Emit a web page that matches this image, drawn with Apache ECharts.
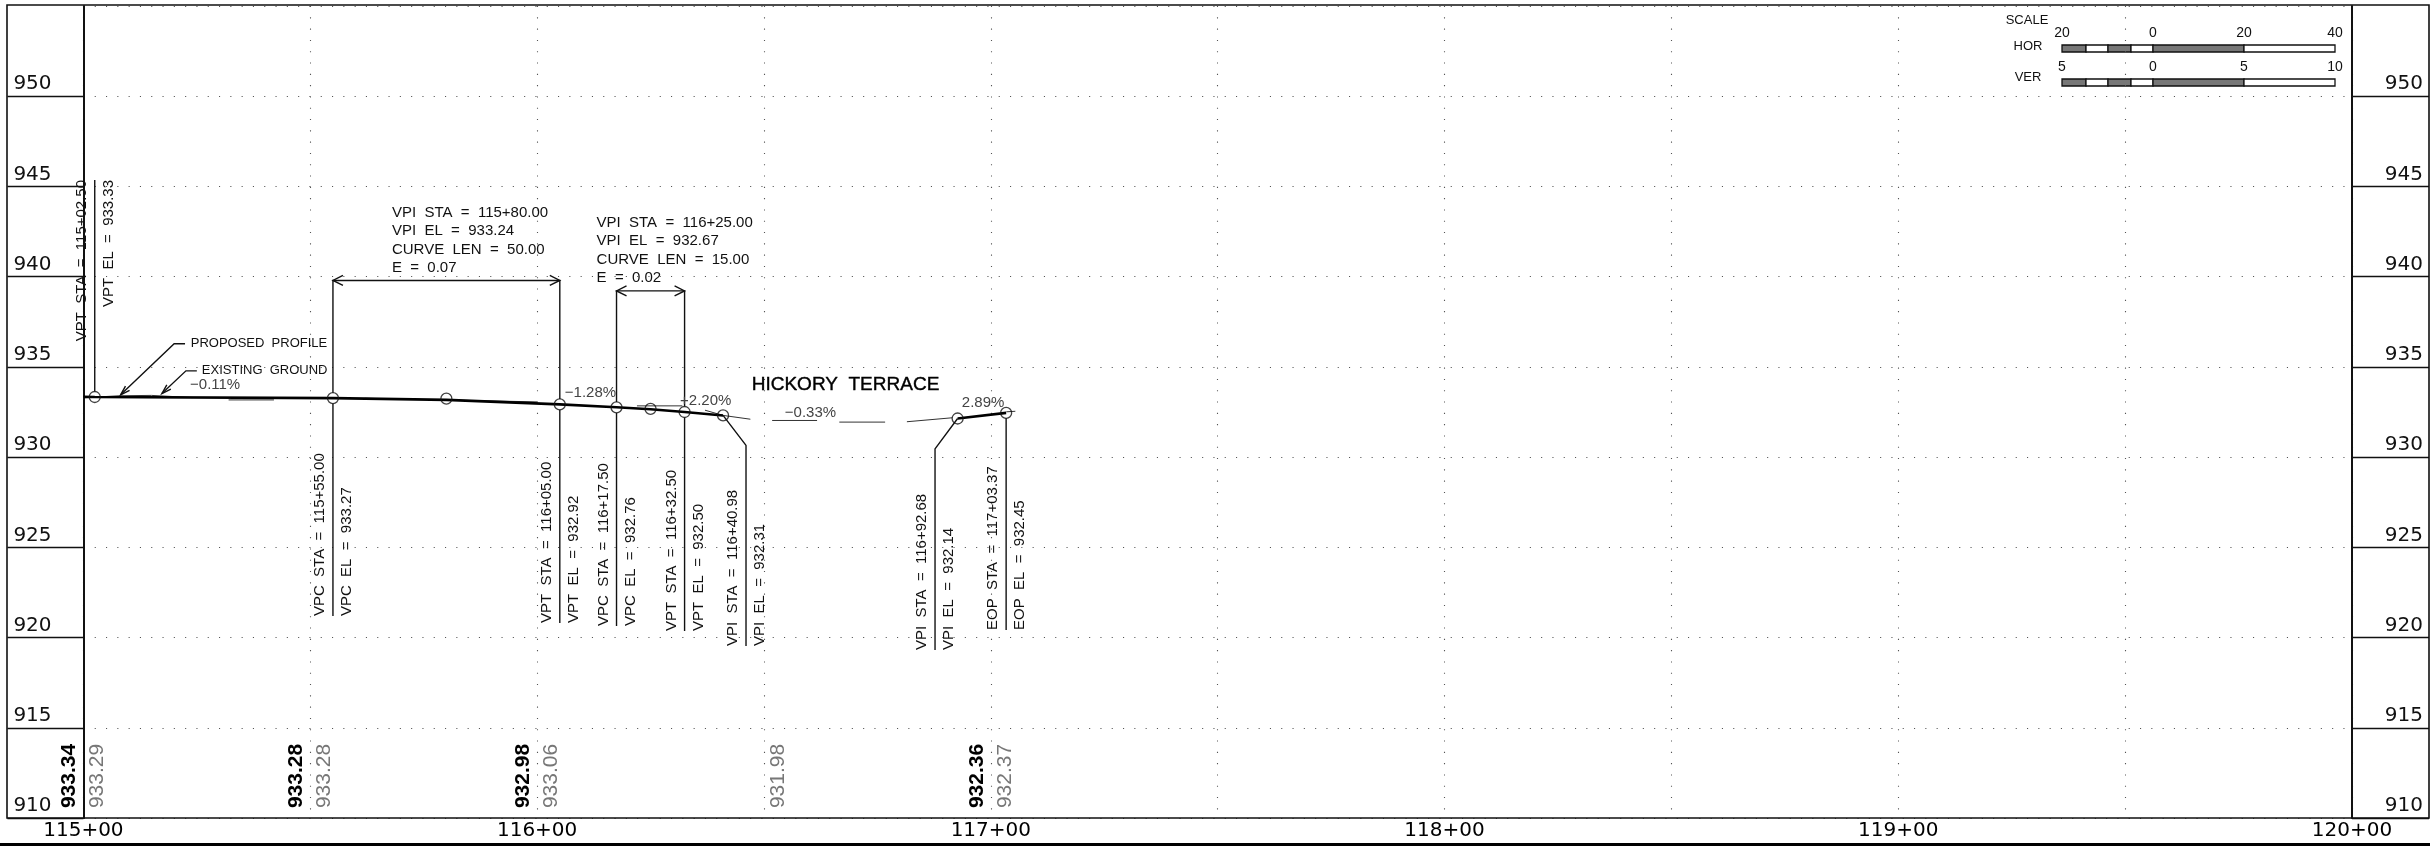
<!DOCTYPE html>
<html><head><meta charset="utf-8">
<style>html,body{margin:0;padding:0;background:#fff}#c{width:2430px;height:846px}</style>
<script src="https://cdn.jsdelivr.net/npm/echarts@6/dist/echarts.min.js"></script>
</head><body><div id="c"></div>
<script>
// ---- data (station in feet, elevation in feet) ----
const proposedStations = [11500, 11502.5, 11555, 11580, 11605, 11617.5, 11625, 11632.5, 11640.98, null, 11692.68, 11703.37];
const proposedElevs    = [933.34, 933.33, 933.27, 933.17, 932.92, 932.76, 932.65, 932.50, 932.31, null, 932.14, 932.45];
const pointStations = [11502.5, 11555, 11580, 11605, 11617.5, 11625, 11632.5, 11640.98, 11692.68, 11703.37];
const pointElevs    = [933.33, 933.27, 933.24, 932.92, 932.76, 932.67, 932.50, 932.31, 932.14, 932.45];
const groundStations = [11500, 11508, 11515, 11524, null, 11532, 11542, null, 11562, 11600, null, 11622, 11632, null, 11637, 11641, 11647, null, 11651.8, 11661.7, null, 11666.6, 11676.7, null, 11681.5, 11691.5, null, 11703.4, 11705.4];
const groundElevs    = [933.29, 933.40, 933.42, 933.30, null, 933.17, 933.17, null, 933.26, 933.06, null, 932.84, 932.84, null, 932.60, 932.31, 932.10, null, 932.03, 932.03, null, 931.94, 931.94, null, 931.96, 932.18, null, 932.51, 932.54];

const leaderStations = [11555, 11605, 11617.5, 11632.5, 11646.04, 11687.7, 11703.37];
const leaderFeet     = [921.19, 920.81, 920.64, 920.36, 919.53, 919.31, 920.42];
const leaderStaText  = ['VPC  STA  =  115+55.00','VPT  STA  =  116+05.00','VPC  STA  =  116+17.50','VPT  STA  =  116+32.50','VPI  STA  =  116+40.98','VPI  STA  =  116+92.68','EOP  STA  =  117+03.37'];
const leaderElText   = ['VPC  EL  =  933.27','VPT  EL  =  932.92','VPC  EL  =  932.76','VPT  EL  =  932.50','VPI  EL  =  932.31','VPI  EL  =  932.14','EOP  EL  =  932.45'];
const firstLeader = {sta: 11502.5, el: 933.33, top: 945.36, staText: 'VPT  STA  =  115+02.50', elText: 'VPT  EL  =  933.33'};
const bentLeaders = [
  [[11640.98, 932.31], [11646.04, 930.65], [11646.04, 919.53]],
  [[11692.68, 932.14], [11687.7, 930.46], [11687.7, 919.31]]
];
const calloutLeaders = [
  [[11522.4, 936.28], [11520, 936.28], [11508.2, 933.45]],
  [[11525, 934.78], [11522.6, 934.78], [11517.3, 933.52]]
];
const brackets = [
  {left: 11555, right: 11605, top: 939.79, elLeft: 933.27, elRight: 932.92},
  {left: 11617.5, right: 11632.5, top: 939.21, elLeft: 932.76, elRight: 932.50}
];
const curveBlocks = [
  {sta: 11568.0, el: 943.53, lines: ['VPI  STA  =  115+80.00','VPI  EL  =  933.24','CURVE  LEN  =  50.00','E  =  0.07']},
  {sta: 11613.1, el: 942.97, lines: ['VPI  STA  =  116+25.00','VPI  EL  =  932.67','CURVE  LEN  =  15.00','E  =  0.02']}
];
const gradeStations = [11523.5, 11606.1, 11631.5, 11654.6, 11693.6];
const gradeElevs    = [934.0, 933.57, 933.12, 932.46, 933.01];
const gradeText     = ['−0.11%','−1.28%','+2.20%','−0.33%','2.89%'];
const noteStations = [11523.65, 11526.1];
const noteElevs    = [936.28, 934.78];
const noteText     = ['PROPOSED  PROFILE','EXISTING  GROUND'];
const rowStations = [11500, 11550, 11600, 11650, 11700];
const rowProposed = ['933.34','933.28','932.98','','932.36'];
const rowExisting = ['933.29','933.28','933.06','931.98','932.37'];
const rowBase = 910.55;
const scaleHor = ['20','0','20','40'];
const scaleVer = ['5','0','5','10'];

// ---- chart ----
const zip = (a, b) => a.map((v, i) => [v, b[i]]);
const FONT = '"Liberation Sans", Arial, sans-serif';
const AXF = '"DejaVu Sans", sans-serif';
const chart = echarts.init(document.getElementById('c'), null, {renderer: 'canvas'});

const thinPath = [];
const addPath = p => { p.forEach(q => thinPath.push(q)); thinPath.push([null, null]); };
leaderStations.forEach((s, i) => {
  const k = pointStations.indexOf(s);
  if (k < 0) return;
  addPath([[s, pointElevs[k] - 0.3], [s, leaderFeet[i]]]);
});
bentLeaders.forEach(addPath);
addPath([[firstLeader.sta, firstLeader.el + 0.3], [firstLeader.sta, firstLeader.top]]);

function textSeries(name, rows, draw) {
  return {
    name, type: 'custom', silent: true, clip: false, z: 6,
    data: rows.map(r => [r.x, r.y]),
    encode: {x: 0, y: 1},
    renderItem: (p, api) => {
      const pt = api.coord([api.value(0), api.value(1)]);
      return draw(rows[p.dataIndex], pt);
    }
  };
}
function vText(text, pt, dx, font, fill, align, extra) {
  return {type: 'text', x: pt[0] + dx, y: pt[1], rotation: Math.PI / 2, silent: true,
    style: Object.assign({text, font, fill, align: align, verticalAlign: 'middle'}, extra || {})};
}

const vRows = [];
leaderStations.forEach((s, i) => {
  vRows.push({x: s, y: leaderFeet[i], t: leaderStaText[i], dx: -13, a: 'left'});
  vRows.push({x: s, y: leaderFeet[i], t: leaderElText[i], dx: 14, a: 'left'});
});
vRows.push({x: firstLeader.sta, y: firstLeader.top, t: firstLeader.staText, dx: -13, a: 'right'});
vRows.push({x: firstLeader.sta, y: firstLeader.top, t: firstLeader.elText, dx: 14, a: 'right'});

const rowRows = [];
rowStations.forEach((s, i) => {
  if (rowProposed[i]) rowRows.push({x: s, y: rowBase, t: rowProposed[i], dx: -14, bold: true});
  rowRows.push({x: s, y: rowBase, t: rowExisting[i], dx: 14, bold: false});
});

const hRows = [];
curveBlocks.forEach(b => b.lines.forEach((l, i) => hRows.push({x: b.sta, y: b.el, t: l, off: i * 18.2, font: '15px ' + FONT, fill: '#111'})));
gradeStations.forEach((s, i) => hRows.push({x: s, y: gradeElevs[i], t: gradeText[i], off: 0, font: '15px ' + FONT, fill: '#444'}));
noteStations.forEach((s, i) => hRows.push({x: s, y: noteElevs[i], t: noteText[i], off: 0, font: '13px ' + FONT, fill: '#111'}));
hRows.push({x: 11647.3, y: 934.0, t: 'HICKORY  TERRACE', off: 0, font: '19px ' + FONT, fill: '#000', stroke: '#000', lw: 0.4});

// scale bar furniture
const SX = [2062, 2086, 2108, 2131, 2153, 2244, 2335];
const LX = [2062, 2153, 2244, 2335];
const scaleGraphics = [];
[[45, 33, scaleHor, 'HOR', 46], [79, 67, scaleVer, 'VER', 77]].forEach(([y, ly, labels, nm, ny]) => {
  SX.slice(0, -1).forEach((x, i) => {
    scaleGraphics.push({type: 'rect', silent: true, shape: {x, y, width: SX[i + 1] - x, height: 7},
      style: {fill: i % 2 === 0 && i !== 5 ? '#777' : '#fff', stroke: '#111', lineWidth: 1.3}});
  });
  labels.forEach((t, i) => scaleGraphics.push({type: 'text', silent: true, x: LX[i], y: ly,
    style: {text: t, font: '14px ' + FONT, fill: '#111', align: 'center', verticalAlign: 'middle'}}));
  scaleGraphics.push({type: 'text', silent: true, x: 2028, y: ny,
    style: {text: nm, font: '13px ' + FONT, fill: '#111', align: 'center', verticalAlign: 'middle'}});
});
scaleGraphics.push({type: 'text', silent: true, x: 2027, y: 20,
  style: {text: 'SCALE', font: '13px ' + FONT, fill: '#111', align: 'center', verticalAlign: 'middle'}});

const DOT = {color: '#555', width: 1.1, type: [1.1, 10.2]};
const yCommon = {
  type: 'value', min: 910, max: 955, interval: 5,
  axisLine: {show: true, onZero: false, lineStyle: {color: '#111', width: 2}},
};
chart.setOption({
  animation: false,
  backgroundColor: '#fff',
  tooltip: {show: false},
  legend: {show: false},
  grid: {left: 83.4, right: 78, top: 6, height: 812, containLabel: false},
  xAxis: {
    type: 'value', min: 11500, max: 12000, interval: 50,
    axisLine: {show: false}, axisTick: {show: false},
    axisLabel: {
      margin: 3, showMinLabel: true, showMaxLabel: true, hideOverlap: false,
      color: '#000', fontFamily: AXF, fontSize: 20,
      formatter: v => v % 100 === 0 ? (v / 100) + '+00' : ''
    },
    splitLine: {show: true, lineStyle: DOT}
  },
  yAxis: [
    Object.assign({}, yCommon, {
      position: 'left',
      axisTick: {show: true, length: 76, lineStyle: {color: '#111', width: 1.3}},
      axisLabel: {
        margin: 70, align: 'left', verticalAlign: 'bottom', padding: [0, 0, 2, 0],
        color: '#111', fontFamily: AXF, fontSize: 20,
        showMaxLabel: false, formatter: v => v === 955 ? '' : String(v)
      },
      splitLine: {show: true, lineStyle: DOT}
    }),
    Object.assign({}, yCommon, {
      position: 'right',
      axisTick: {show: true, length: 77, lineStyle: {color: '#111', width: 1.3}},
      axisLabel: {
        margin: 71, align: 'right', verticalAlign: 'bottom', padding: [0, 0, 2, 0],
        color: '#111', fontFamily: AXF, fontSize: 20,
        showMaxLabel: false, formatter: v => v === 955 ? '' : String(v)
      },
      splitLine: {show: false}
    })
  ],
  graphic: {elements: [
    {type: 'rect', silent: true, shape: {x: 7, y: 5, width: 2422, height: 813},
      style: {fill: 'transparent', stroke: '#111', lineWidth: 1.6}, z: 10},
    {type: 'line', silent: true, shape: {x1: 0, y1: 844.5, x2: 2430, y2: 844.5},
      style: {stroke: '#000', lineWidth: 3}, z: 10}
  ].concat(scaleGraphics)},
  series: [
    {name: 'Existing ground', type: 'line', z: 3, showSymbol: false, silent: true,
     data: zip(groundStations, groundElevs), connectNulls: false,
     lineStyle: {color: '#333', width: 1}},
    {name: 'Proposed profile', type: 'line', z: 4, showSymbol: false, silent: true,
     data: zip(proposedStations, proposedElevs), connectNulls: false,
     lineStyle: {color: '#000', width: 2.6}},
    {name: 'Leaders', type: 'line', z: 4, showSymbol: false, silent: true,
     data: thinPath, connectNulls: false, lineStyle: {color: '#111', width: 1.4}},
    {name: 'Profile points', type: 'scatter', z: 5, silent: true, symbol: 'circle', symbolSize: 11,
     data: zip(pointStations, pointElevs),
     itemStyle: {color: 'rgba(255,255,255,0)', borderColor: '#111', borderWidth: 1.3}},
    {name: 'Curve brackets', type: 'custom', z: 4, silent: true, clip: false,
     data: brackets.map(b => [b.left, b.top, b.right, b.elLeft, b.elRight]),
     encode: {x: 0, y: 1},
     renderItem: (p, api) => {
       const b = brackets[p.dataIndex];
       const tl = api.coord([b.left, b.top]), tr = api.coord([b.right, b.top]);
       const bl = api.coord([b.left, b.elLeft + 0.3]), br = api.coord([b.right, b.elRight + 0.3]);
       const st = {stroke: '#111', lineWidth: 1.4, fill: 'none'};
       return {type: 'group', children: [
         {type: 'polyline', shape: {points: [bl, tl, tr, br]}, style: st},
         {type: 'polyline', shape: {points: [[tl[0] + 10, tl[1] - 5], tl, [tl[0] + 10, tl[1] + 5]]}, style: st},
         {type: 'polyline', shape: {points: [[tr[0] - 10, tr[1] - 5], tr, [tr[0] - 10, tr[1] + 5]]}, style: st}
       ]};
     }},
    {name: 'Callout leaders', type: 'custom', z: 4, silent: true, clip: false,
     data: calloutLeaders.map(c => c[2]),
     encode: {x: 0, y: 1},
     renderItem: (p, api) => {
       const pts = calloutLeaders[p.dataIndex].map(q => api.coord(q));
       const [a, b] = [pts[1], pts[2]];
       const ang = Math.atan2(a[1] - b[1], a[0] - b[0]);
       const head = d => [b[0] + 10 * Math.cos(ang + d), b[1] + 10 * Math.sin(ang + d)];
       const st = {stroke: '#111', lineWidth: 1.4, fill: 'none'};
       return {type: 'group', children: [
         {type: 'polyline', shape: {points: pts}, style: st},
         {type: 'polyline', shape: {points: [head(0.3), b, head(-0.3)]}, style: st}
       ]};
     }},
    textSeries('Leader labels', vRows, (r, pt) => vText(r.t, pt, r.dx, '15px ' + FONT, '#111', r.a)),
    textSeries('Elevation row', rowRows, (r, pt) => vText(r.t, pt, r.dx,
      (r.bold ? 'bold ' : '') + '21px ' + FONT, r.bold ? '#000' : '#777', 'left')),
    textSeries('Notes', hRows, (r, pt) => ({
      type: 'text', x: pt[0], y: pt[1] + r.off, silent: true,
      style: {text: r.t, font: r.font, fill: r.fill, align: 'left', verticalAlign: 'middle',
              stroke: r.stroke, lineWidth: r.lw}
    }))
  ]
});
</script></body></html>
